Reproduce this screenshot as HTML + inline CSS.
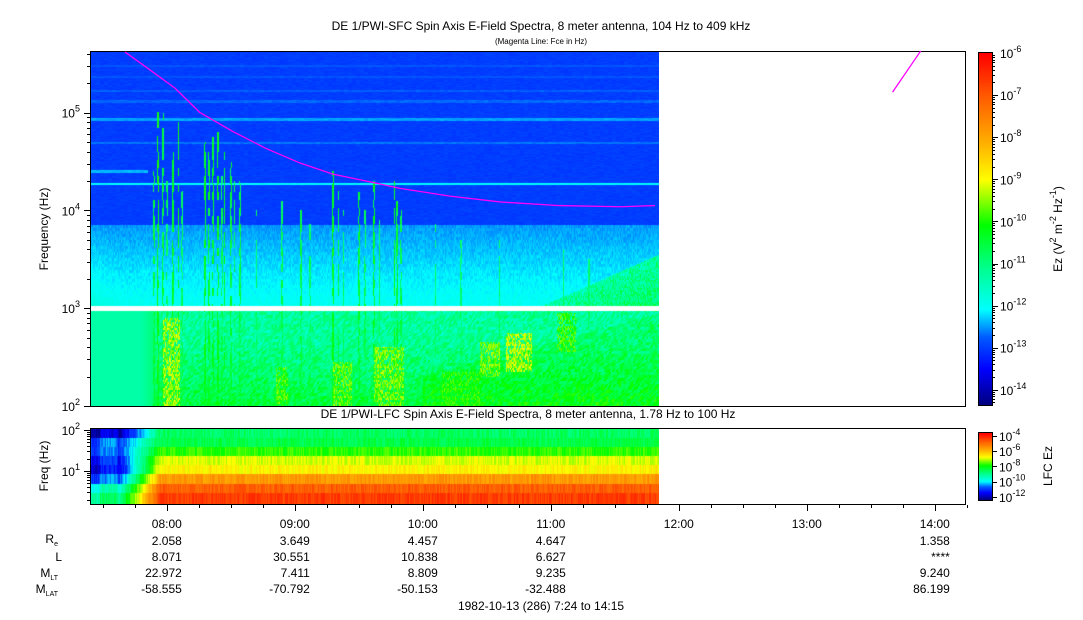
<!DOCTYPE html>
<html><head><meta charset="utf-8">
<style>
body{margin:0;background:#fff;width:1083px;height:620px;overflow:hidden;position:relative;font-family:"Liberation Sans",sans-serif}
canvas{position:absolute}
svg{position:absolute;left:0;top:0}
text{font-family:"Liberation Sans",sans-serif;fill:#000}
</style></head><body>
<canvas id="sfc" width="568" height="354" style="left:91px;top:52px"></canvas>
<canvas id="lfc" width="568" height="75" style="left:91px;top:429px"></canvas>
<canvas id="cb1" width="13" height="352" style="left:979px;top:53px"></canvas>
<canvas id="cb2" width="13" height="67" style="left:979px;top:433px"></canvas>
<svg id="ax" width="1083" height="620"></svg>
<script>
// ---------- data ----------
const hourTicks=[8,9,10,11,12,13,14];
const hourLabels=["08:00","09:00","10:00","11:00","12:00","13:00","14:00"];
const ephHours=[8,9,10,11,14];
const ephRe=["2.058","3.649","4.457","4.647","1.358"];
const ephL=["8.071","30.551","10.838","6.627","****"];
const ephMLT=["22.972","7.411","8.809","9.235","9.240"];
const ephMLAT=["-58.555","-70.792","-50.153","-32.488","86.199"];
const fceTimes1=[7.673,7.869,8.064,8.259,8.517,8.775,9.041,9.298,9.556,9.822,10.213,10.603,11.072,11.541,11.814];
const fceValues1=[417000,273000,178000,100000,64000,43000,30500,23500,20000,16800,14000,12200,11200,10900,11200];
const fceTimes2=[13.67,13.89];
const fceValues2=[162000,427000];
const sfcLineFreqs=[18500,25000,49000,85000,130000,165000,230000,300000];
const sfcLineLevels=[-12.1,-12.4,-12.7,-12.5,-12.75,-12.8,-12.85,-12.85];
const burstTimes=[7.9,7.93,7.97,8.0,8.05,8.09,8.12,8.3,8.33,8.36,8.4,8.43,8.45,8.5,8.53,8.57,8.7,8.9,9.05,9.12,9.3,9.34,9.38,9.5,9.55,9.62,9.66,9.78,9.8,9.83,10.1,10.3,10.6,11.1,11.3];
const burstTops=[4.4,5.05,5.0,4.3,4.6,4.9,4.2,4.7,4.6,4.75,4.8,4.4,4.6,4.5,4.3,4.3,4.0,4.1,4.0,3.9,4.4,4.2,4.0,4.2,4.0,4.3,3.9,4.3,4.1,4.0,3.9,3.7,3.8,3.6,3.5];
const burstLevels=[-10.6,-10.2,-10.5,-10.8,-10.4,-10.2,-10.8,-10.3,-10.5,-10.4,-10.3,-10.7,-10.4,-10.5,-10.7,-10.6,-10.9,-10.7,-10.6,-10.8,-10.3,-10.5,-10.8,-10.5,-10.7,-10.4,-10.8,-10.2,-10.4,-10.6,-10.8,-10.9,-10.8,-10.8,-10.9];
const patchT0=[7.97,8.85,9.3,9.62,10.45,10.65,11.05,10.15];
const patchT1=[8.1,8.95,9.45,9.85,10.6,10.85,11.2,10.45];
const patchLf0=[2.0,2.0,2.0,2.0,2.3,2.35,2.55,2.0];
const patchLf1=[2.9,2.4,2.45,2.6,2.65,2.75,2.95,2.35];
const patchLevels=[-9.4,-9.8,-9.7,-9.6,-9.6,-9.3,-9.9,-10.0];
const lfcLevelsLate=[-4.5,-4.9,-5.7,-6.8,-7.1,-7.9,-8.6,-8.8];
const lfcLevelsEarly=[-9.3,-10.0,-11.2,-12.0,-11.7,-11.2,-11.2,-12.4];
const sfcTicks=[2,3,4,5];
const lfcTicks=[1,2];
const cb1Exps=[-6,-7,-8,-9,-10,-11,-12,-13,-14];
const cb2Exps=[-4,-6,-8,-10,-12];

// ---------- axes ----------
const T0=7.4, PXH=128, X0=90;
const xOf=t=>X0+(t-T0)*PXH;
const tOf=x=>T0+(x-X0)/PXH;
const ySfc=f=>406-(Math.log10(f)-2)*97.8;
const lfSfc=y=>2+(406-y)/97.8;
const yLfc=f=>430-(Math.log10(f)-2)*41;
const lfLfc=y=>2+(430-y)/41;

const stops=[[0,0,0,128],[0.1,0,0,255],[0.19,0,90,255],[0.27,0,255,255],[0.39,0,255,140],[0.51,0,255,0],[0.64,255,255,0],[0.74,255,180,0],[0.88,255,90,0],[1,255,0,0]];
function cmap(u){u=Math.max(0,Math.min(1,u));for(let i=1;i<stops.length;i++){if(u<=stops[i][0]){const a=stops[i-1],b=stops[i],k=(u-a[0])/(b[0]-a[0]);return [a[1]+(b[1]-a[1])*k,a[2]+(b[2]-a[2])*k,a[3]+(b[3]-a[3])*k];}}return [255,0,0];}
function hash(a,b){let h=(a*374761393+b*668265263)|0;h=(h^(h>>>13))*1274126177|0;return ((h^(h>>>16))>>>0)/4294967296;}

function sfcLevel(t,lf,x,y){
  let v;
  if(lf>3.85){
    v=-13.05;
    for(let i=0;i<sfcLineFreqs.length;i++){const d=Math.abs(lf-Math.log10(sfcLineFreqs[i]));if(d<0.011&&!(i==1&&t>7.85))v=Math.max(v,sfcLineLevels[i]);}
    v+=(hash(x>>2,y)-0.5)*0.15;
  } else if(lf>3.02){
    v=-12.55+(3.85-lf)/0.83*0.55;
    if(t<7.62){v+=(7.62-t)*1.0*(3.85-lf);}
    const lb=3.0+(t-10.9)/0.95*0.55;
    if(t>10.9&&lf<lb)v=Math.max(v,-11.3+(lb-lf)*0.8+(hash(x,y>>1)-0.5)*1.0);
    v+=(hash(x,Math.floor(y/3))-0.5)*0.25;
  } else {
    v=-11.25;
    if(t>7.9){v+=(lf<2.7?(2.7-lf)*1.0:0);
      const dn=hash(Math.floor((x+y*0.6)/2),Math.floor(y/3));v+=(dn-0.5)*0.9;
      if(t>10.0){const ub=2.3+(t-10)*0.35; if(lf<ub)v+=0.3;}
      for(let i=0;i<patchT0.length;i++){if(t>patchT0[i]&&t<patchT1[i]&&lf>patchLf0[i]&&lf<patchLf1[i]&&hash(x,y>>1)>0.35)v=Math.max(v,patchLevels[i]+(hash(x+7,y>>1)-0.5)*0.8);}
    } else v=-11.35+(t>7.8?(t-7.8)*4:0);
  }
  for(let i=0;i<burstTimes.length;i++){const d=Math.abs(t-burstTimes[i]);if(d<0.006&&lf<burstTops[i]&&hash(x,y>>3)>0.3){v=Math.max(v,burstLevels[i]+(hash(x,y>>2)-0.5)*0.6);}}
  return v;
}
(function(){
  const c=document.getElementById('sfc'),ctx=c.getContext('2d'),im=ctx.createImageData(568,354);
  for(let py=0;py<354;py++){const y=52+py,lf=lfSfc(y+0.5);
    for(let px=0;px<568;px++){const x=91+px,t=tOf(x+0.5),k=(py*568+px)*4;
      if(lf>2.97&&lf<3.02){im.data[k]=im.data[k+1]=im.data[k+2]=255;im.data[k+3]=255;continue;}
      const v=sfcLevel(t,lf,x,y),col=cmap((v+14.4)/8.4);
      im.data[k]=col[0];im.data[k+1]=col[1];im.data[k+2]=col[2];im.data[k+3]=255;}}
  ctx.putImageData(im,0,0);
})();
(function(){
  const c=document.getElementById('lfc'),ctx=c.getContext('2d'),im=ctx.createImageData(568,75);
  for(let py=0;py<75;py++){const y=429+py,lf=lfLfc(y+0.5);
    let r=Math.floor((lf-0.25)/0.222);r=Math.max(0,Math.min(7,r));
    for(let px=0;px<568;px++){const x=91+px,t=tOf(x+0.5),k=(py*568+px)*4;
      let a=lfcLevelsEarly[r],b=lfcLevelsLate[r],w=t<7.62?0:t>7.95?1:(t-7.62)/0.33;
      let v=a+(b-a)*w;
      if(t<7.62&&t>7.48) v+=0.6;
      v+=(hash(x,r)-0.5)*0.6;
      const col=cmap((v+12.5)/8.7);
      im.data[k]=col[0];im.data[k+1]=col[1];im.data[k+2]=col[2];im.data[k+3]=255;}}
  ctx.putImageData(im,0,0);
})();
function bar(id,h){const c=document.getElementById(id),ctx=c.getContext('2d');for(let y=0;y<h;y++){const col=cmap(1-y/(h-1));ctx.fillStyle=`rgb(${col[0]|0},${col[1]|0},${col[2]|0})`;ctx.fillRect(0,y,13,1);}}
bar('cb1',352);bar('cb2',67);

const svg=document.getElementById('ax'),NS='http://www.w3.org/2000/svg';
function el(tag,attrs,parent){const e=document.createElementNS(NS,tag);for(const k in attrs)e.setAttribute(k,attrs[k]);(parent||svg).appendChild(e);return e;}
function txt(x,y,s,size,anchor,name){const e=el('text',{x:x,y:y,'font-size':size,'text-anchor':anchor||'start'});e.textContent=s;return e;}
function pow10(x,y,exp,name,anchor){const e=el('text',{x:x,y:y,'font-size':12,'text-anchor':anchor||'end'});
  const a=el('tspan',{},e);a.textContent='10';const b=el('tspan',{dy:-6,'font-size':9},e);b.textContent=String(exp);return e;}

txt(541,30,'DE 1/PWI-SFC  Spin Axis E-Field Spectra, 8 meter antenna, 104 Hz to 409 kHz',12,'middle','sfc-title');
txt(541,44,'(Magenta Line: Fce in Hz)',8,'middle','sfc-subtitle');
txt(528,418,'DE 1/PWI-LFC  Spin Axis E-Field Spectra, 8 meter antenna, 1.78 Hz to 100 Hz',12,'middle','lfc-title');

let f1=el('rect',{x:90.5,y:51.5,width:875,height:355,fill:'none',stroke:'#000'});
let f2=el('rect',{x:90.5,y:428.5,width:875,height:76,fill:'none',stroke:'#000'});

for(let d=2;d<=5;d++){for(let m=1;m<=9;m++){const f=m*Math.pow(10,d);if(f>409000)break;const y=Math.round(ySfc(f))+0.5;el('line',{x1:m==1?84:87,x2:90,y1:y,y2:y,stroke:'#000'});}}
sfcTicks.forEach(d=>pow10(80,ySfc(Math.pow(10,d))+5,d,'sfc-y-tick-label'));
let yl=txt(0,0,'Frequency (Hz)',12,'middle','sfc-y-axis-title');yl.setAttribute('transform','translate(48,229) rotate(-90)');
function fceLine(ts,vs,name){const p=el('polyline',{points:ts.map((t,i)=>xOf(t)+','+ySfc(vs[i])).join(' '),fill:'none',stroke:'#ff00ff','stroke-width':1.3,'stroke-linejoin':'round'});}
fceLine(fceTimes1,fceValues1,'fce-line-1');fceLine(fceTimes2,fceValues2,'fce-line-2');

for(let d=0;d<=2;d++){for(let m=1;m<=9;m++){const f=m*Math.pow(10,d);if(f<1.78||f>100)continue;const y=Math.round(yLfc(f))+0.5;el('line',{x1:m==1?84:87,x2:90,y1:y,y2:y,stroke:'#000'});}}
lfcTicks.forEach(d=>pow10(80,yLfc(Math.pow(10,d))+5,d,'lfc-y-tick-label'));
let yl2=txt(0,0,'Freq (Hz)',12,'middle','lfc-y-axis-title');yl2.setAttribute('transform','translate(48,466) rotate(-90)');

for(let q=0;q<28;q++){const t=7.5+q*0.25;if(t>14.25)break;const x=Math.round(xOf(t))+0.5;const maj=Math.abs(t-Math.round(t))<1e-6;el('line',{x1:x,x2:x,y1:505,y2:maj?511:508,stroke:'#000'});}
hourTicks.forEach((h,i)=>txt(xOf(h),528,hourLabels[i],12,'middle','x-tick-label'));
const ephY=[545,561,577,593];
function rowLabel(y,main,sub,name){const e=el('text',{x:sub?58:62,y:y,'font-size':12,'text-anchor':'end'});const a=el('tspan',{},e);a.textContent=main;if(sub){const b=el('tspan',{dy:3,'font-size':7},e);b.textContent=sub;}}
rowLabel(ephY[0]-2,'R','e','re-row-label');
txt(62,ephY[1],'L',12,'end','l-row-label');
rowLabel(ephY[2],'M','LT','mlt-row-label');
rowLabel(ephY[3],'M','LAT','mlat-row-label');
[ephRe,ephL,ephMLT,ephMLAT].forEach((arr,r)=>arr.forEach((s,i)=>txt(xOf(ephHours[i])+15,ephY[r],s,12,'end','ephemeris-value')));
txt(541,610,'1982-10-13 (286) 7:24 to 14:15',12,'middle','date-range-label');

let cbf=el('rect',{x:978.5,y:52.5,width:14,height:353,fill:'none',stroke:'#000'});
const cbY=e=>53+(-6-e)*42.1;
for(let e=-6;e>=-14;e--){for(let m=1;m<=9;m++){const y=Math.round(cbY(e-1+Math.log10(m)))+0.5;if(y>405)continue;el('line',{x1:992,x2:m==1?998:995,y1:y,y2:y,stroke:'#000'});}}
cb1Exps.forEach(e=>{pow10(1000,cbY(e)+5,e,'sfc-colorbar-tick-label','start');});
let cbt=el('text',{'font-size':12,'text-anchor':'middle',transform:'translate(1062,229) rotate(-90)'});
[['Ez (V',0,12],['2',-6,9],[' m',6,12],['-2',-6,9],[' Hz',6,12],['-1',-6,9],[')',6,12]].forEach(p=>{const s=el('tspan',{dy:p[1],'font-size':p[2]},cbt);s.textContent=p[0];});
let cbf2=el('rect',{x:978.5,y:432.5,width:14,height:68,fill:'none',stroke:'#000'});
const cb2Y=e=>436+(-4-e)*7.62;
cb2Exps.forEach(e=>{const y=Math.round(cb2Y(e))+0.5;el('line',{x1:992,x2:997,y1:y,y2:y,stroke:'#000'});pow10(999,cb2Y(e)+5,e,'lfc-colorbar-tick-label','start');});
let cbt2=txt(0,0,'LFC Ez',12,'middle','lfc-colorbar-title');cbt2.setAttribute('transform','translate(1052,466) rotate(-90)');
</script>
</body></html>
